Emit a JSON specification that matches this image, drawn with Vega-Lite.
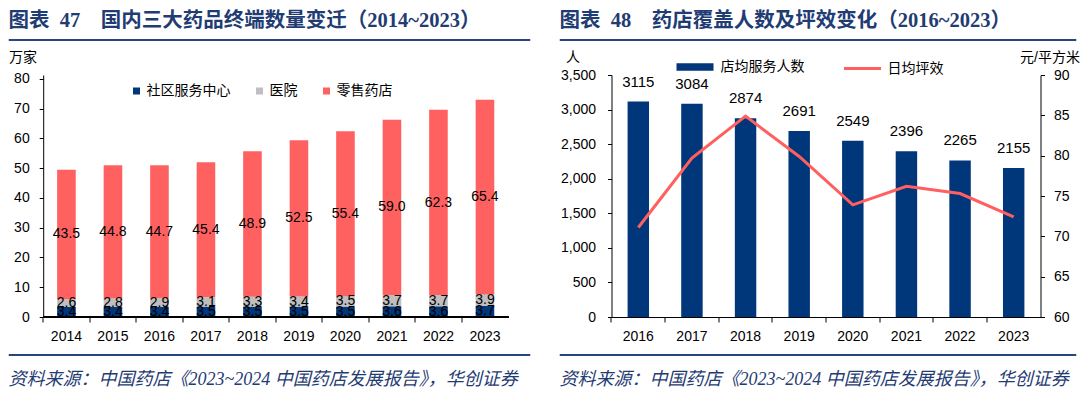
{
  "$schema": "https://vega.github.io/schema/vega-lite/v6.json",
  "padding": {"left": 7.5, "top": 10, "right": 0, "bottom": 0},
  "autosize": {"type": "pad"},
  "config": {
    "view": {"stroke": null},
    "font": "Liberation Sans, Noto Sans CJK SC",
    "axis": {
      "labelFont": "Liberation Sans, Noto Sans CJK SC",
      "labelFontSize": 14,
      "labelColor": "#000",
      "domainColor": "#000",
      "tickColor": "#000",
      "grid": false,
      "labelOverlap": false,
      "titleFont": "Liberation Sans, Noto Sans CJK SC",
      "titleFontWeight": "normal",
      "titleFontSize": 14,
      "titleColor": "#000"
    },
    "legend": {
      "labelFont": "Liberation Sans, Noto Sans CJK SC",
      "labelFontSize": 14,
      "labelColor": "#000"
    }
  },
  "spacing": 5,
  "vconcat": [
    {
      "spacing": 28,
      "hconcat": [
        {
          "width": 521,
          "height": 1,
          "view": {"stroke": "#27457E", "strokeWidth": 1},
          "title": {
            "text": "图表\u200247\u2003国内三大药品终端数量变迁（2014~2023）",
            "anchor": "start",
            "frame": "group",
            "font": "Liberation Serif, Noto Sans CJK SC",
            "fontSize": 20.5,
            "fontWeight": "bold",
            "color": "#1F3C73",
            "offset": 2
          },
          "data": {"values": [{"t": ""}]},
          "mark": {"type": "text"},
          "encoding": {"text": {"field": "t", "type": "nominal"}}
        },
        {
          "width": 516,
          "height": 1,
          "view": {"stroke": "#27457E", "strokeWidth": 1},
          "title": {
            "text": "图表\u200248\u2003药店覆盖人数及坪效变化（2016~2023）",
            "anchor": "start",
            "frame": "group",
            "font": "Liberation Serif, Noto Sans CJK SC",
            "fontSize": 20.5,
            "fontWeight": "bold",
            "color": "#1F3C73",
            "offset": 2
          },
          "data": {"values": [{"t": ""}]},
          "mark": {"type": "text"},
          "encoding": {"text": {"field": "t", "type": "nominal"}}
        }
      ]
    },
    {
      "spacing": 50,
      "hconcat": [
        {
          "width": 500,
          "height": 242,
          "data": {
            "values": [
              {"year": "2014", "type": "社区服务中心", "rank": 1, "value": 3.4},
              {"year": "2014", "type": "医院", "rank": 2, "value": 2.6},
              {"year": "2014", "type": "零售药店", "rank": 3, "value": 43.5},
              {"year": "2015", "type": "社区服务中心", "rank": 1, "value": 3.4},
              {"year": "2015", "type": "医院", "rank": 2, "value": 2.8},
              {"year": "2015", "type": "零售药店", "rank": 3, "value": 44.8},
              {"year": "2016", "type": "社区服务中心", "rank": 1, "value": 3.4},
              {"year": "2016", "type": "医院", "rank": 2, "value": 2.9},
              {"year": "2016", "type": "零售药店", "rank": 3, "value": 44.7},
              {"year": "2017", "type": "社区服务中心", "rank": 1, "value": 3.5},
              {"year": "2017", "type": "医院", "rank": 2, "value": 3.1},
              {"year": "2017", "type": "零售药店", "rank": 3, "value": 45.4},
              {"year": "2018", "type": "社区服务中心", "rank": 1, "value": 3.5},
              {"year": "2018", "type": "医院", "rank": 2, "value": 3.3},
              {"year": "2018", "type": "零售药店", "rank": 3, "value": 48.9},
              {"year": "2019", "type": "社区服务中心", "rank": 1, "value": 3.5},
              {"year": "2019", "type": "医院", "rank": 2, "value": 3.4},
              {"year": "2019", "type": "零售药店", "rank": 3, "value": 52.5},
              {"year": "2020", "type": "社区服务中心", "rank": 1, "value": 3.5},
              {"year": "2020", "type": "医院", "rank": 2, "value": 3.5},
              {"year": "2020", "type": "零售药店", "rank": 3, "value": 55.4},
              {"year": "2021", "type": "社区服务中心", "rank": 1, "value": 3.6},
              {"year": "2021", "type": "医院", "rank": 2, "value": 3.7},
              {"year": "2021", "type": "零售药店", "rank": 3, "value": 59.0},
              {"year": "2022", "type": "社区服务中心", "rank": 1, "value": 3.6},
              {"year": "2022", "type": "医院", "rank": 2, "value": 3.7},
              {"year": "2022", "type": "零售药店", "rank": 3, "value": 62.3},
              {"year": "2023", "type": "社区服务中心", "rank": 1, "value": 3.7},
              {"year": "2023", "type": "医院", "rank": 2, "value": 3.9},
              {"year": "2023", "type": "零售药店", "rank": 3, "value": 65.4}
            ]
          },
          "encoding": {
            "x": {
              "field": "year",
              "type": "ordinal",
              "scale": {"paddingInner": 0.6, "paddingOuter": 0.6763, "align": 0.7735},
              "axis": {
                "title": null,
                "labelAngle": 0,
                "domain": false,
                "bandPosition": -0.75,
                "tickSize": 5,
                "labelPadding": 7
              }
            }
          },
          "layer": [
            {
              "mark": {"type": "bar"},
              "encoding": {
                "y": {
                  "field": "value",
                  "type": "quantitative",
                  "stack": "zero",
                  "scale": {"domain": [0, 81.3], "nice": false},
                  "axis": {
                    "values": [0, 10, 20, 30, 40, 50, 60, 70, 80],
                    "tickCount": 20,
                    "labelOverlap": false,
                    "offset": -34.7,
                    "title": "万家",
                    "titleAngle": 0,
                    "titleX": -20.7,
                    "titleY": -18,
                    "titleAlign": "center",
                    "titleBaseline": "middle",
                    "tickSize": 4,
                    "labelPadding": 10
                  }
                },
                "order": {"field": "rank", "type": "quantitative"},
                "color": {
                  "field": "type",
                  "type": "nominal",
                  "scale": {
                    "domain": ["社区服务中心", "医院", "零售药店"],
                    "range": ["#00367A", "#BFBFBF", "#FF6161"]
                  },
                  "legend": {
                    "orient": "none",
                    "legendX": 121,
                    "legendY": 45,
                    "direction": "horizontal",
                    "columns": 3,
                    "columnPadding": 22,
                    "title": null,
                    "symbolType": "square",
                    "symbolSize": 49,
                    "symbolStrokeWidth": 0,
                    "labelOffset": 3
                  }
                }
              }
            },
            {
              "mark": {"type": "text", "fontSize": 14, "color": "#000"},
              "encoding": {
                "y": {
                  "field": "value",
                  "type": "quantitative",
                  "stack": "zero",
                  "bandPosition": 0.5,
                  "axis": {
                    "values": [0, 10, 20, 30, 40, 50, 60, 70, 80],
                    "tickCount": 20,
                    "labelOverlap": false,
                    "offset": -34.7,
                    "title": "万家",
                    "titleAngle": 0,
                    "titleX": -20.7,
                    "titleY": -18,
                    "titleAlign": "center",
                    "titleBaseline": "middle",
                    "tickSize": 4,
                    "labelPadding": 10
                  }
                },
                "order": {"field": "rank", "type": "quantitative"},
                "detail": {"field": "type", "type": "nominal"},
                "text": {"field": "value", "type": "quantitative", "format": ".1f"}
              }
            },
            {
              "mark": {"type": "rule", "color": "#000", "strokeWidth": 1},
              "encoding": {
                "x": {"datum": "2014", "bandPosition": -0.75},
                "x2": {"datum": "2023", "bandPosition": 1.75},
                "y": {"datum": 0}
              }
            }
          ]
        },
        {
          "width": 429,
          "height": 242,
          "data": {
            "values": [
              {"year": "2016", "people": 3115, "eff": 71.1},
              {"year": "2017", "people": 3084, "eff": 79.7},
              {"year": "2018", "people": 2874, "eff": 84.9},
              {"year": "2019", "people": 2691, "eff": 79.9},
              {"year": "2020", "people": 2549, "eff": 73.9},
              {"year": "2021", "people": 2396, "eff": 76.2},
              {"year": "2022", "people": 2265, "eff": 75.3},
              {"year": "2023", "people": 2155, "eff": 72.4}
            ]
          },
          "encoding": {
            "x": {
              "field": "year",
              "type": "ordinal",
              "scale": {"paddingInner": 0.6, "paddingOuter": 0.3},
              "axis": {
                "title": null,
                "labelAngle": 0,
                "bandPosition": -0.75,
                "tickSize": 5,
                "labelPadding": 7
              }
            }
          },
          "layer": [
            {
              "encoding": {
                "y": {
                  "field": "people",
                  "type": "quantitative",
                  "scale": {"domain": [0, 3500], "nice": false},
                  "axis": {
                    "values": [0, 500, 1000, 1500, 2000, 2500, 3000, 3500],
                    "tickCount": 20,
                    "labelOverlap": false,
                    "format": ",d",
                    "title": "人",
                    "titleAngle": 0,
                    "titleX": -39,
                    "titleY": -18,
                    "titleAlign": "center",
                    "titleBaseline": "middle",
                    "tickSize": 4,
                    "labelPadding": 12
                  }
                }
              },
              "layer": [
                {
                  "mark": {"type": "bar"},
                  "encoding": {
                    "fill": {
                      "datum": "店均服务人数",
                      "type": "nominal",
                      "scale": {"range": ["#00367A"]},
                      "legend": {
                        "orient": "none",
                        "legendX": 668,
                        "legendY": 9.5,
                        "title": null,
                        "symbolType": "M-1,-0.2L1,-0.2L1,0.2L-1,0.2Z",
                        "symbolSize": 1369,
                        "symbolStrokeWidth": 0,
                        "labelOffset": 7
                      }
                    }
                  }
                },
                {
                  "mark": {"type": "text", "fontSize": 15, "dy": -20, "color": "#000"},
                  "encoding": {
                    "text": {"field": "people", "type": "quantitative", "format": "d"}
                  }
                }
              ]
            },
            {
              "mark": {"type": "line", "strokeWidth": 3},
              "encoding": {
                "y": {
                  "field": "eff",
                  "type": "quantitative",
                  "scale": {"domain": [60, 90], "nice": false},
                  "axis": {
                    "orient": "right",
                    "values": [60, 65, 70, 75, 80, 85, 90],
                    "tickCount": 20,
                    "labelOverlap": false,
                    "title": "元/平方米",
                    "titleAngle": 0,
                    "titleX": 9,
                    "titleY": -18,
                    "titleAlign": "center",
                    "titleBaseline": "middle",
                    "tickSize": 4,
                    "labelPadding": 9
                  }
                },
                "stroke": {
                  "datum": "日均坪效",
                  "type": "nominal",
                  "scale": {"range": ["#FF5F5F"]},
                  "legend": {
                    "orient": "none",
                    "legendX": 834,
                    "legendY": 9.5,
                    "title": null,
                    "symbolType": "stroke",
                    "symbolSize": 1369,
                    "symbolStrokeWidth": 3,
                    "labelOffset": 5
                  }
                }
              }
            }
          ],
          "resolve": {"scale": {"y": "independent"}}
        }
      ]
    },
    {
      "spacing": 28,
      "hconcat": [
        {
          "width": 521,
          "height": 1,
          "view": {"stroke": "#27457E", "strokeWidth": 1},
          "title": {
            "text": "资料来源：中国药店《2023~2024 中国药店发展报告》，华创证券",
            "orient": "bottom",
            "anchor": "start",
            "frame": "group",
            "font": "Liberation Serif, Noto Sans CJK SC",
            "fontSize": 18,
            "fontStyle": "italic",
            "fontWeight": "normal",
            "color": "#1F3C73",
            "offset": 11
          },
          "data": {"values": [{"t": ""}]},
          "mark": {"type": "text"},
          "encoding": {"text": {"field": "t", "type": "nominal"}}
        },
        {
          "width": 516,
          "height": 1,
          "view": {"stroke": "#27457E", "strokeWidth": 1},
          "title": {
            "text": "资料来源：中国药店《2023~2024 中国药店发展报告》，华创证券",
            "orient": "bottom",
            "anchor": "start",
            "frame": "group",
            "font": "Liberation Serif, Noto Sans CJK SC",
            "fontSize": 18,
            "fontStyle": "italic",
            "fontWeight": "normal",
            "color": "#1F3C73",
            "offset": 11
          },
          "data": {"values": [{"t": ""}]},
          "mark": {"type": "text"},
          "encoding": {"text": {"field": "t", "type": "nominal"}}
        }
      ]
    }
  ]
}
